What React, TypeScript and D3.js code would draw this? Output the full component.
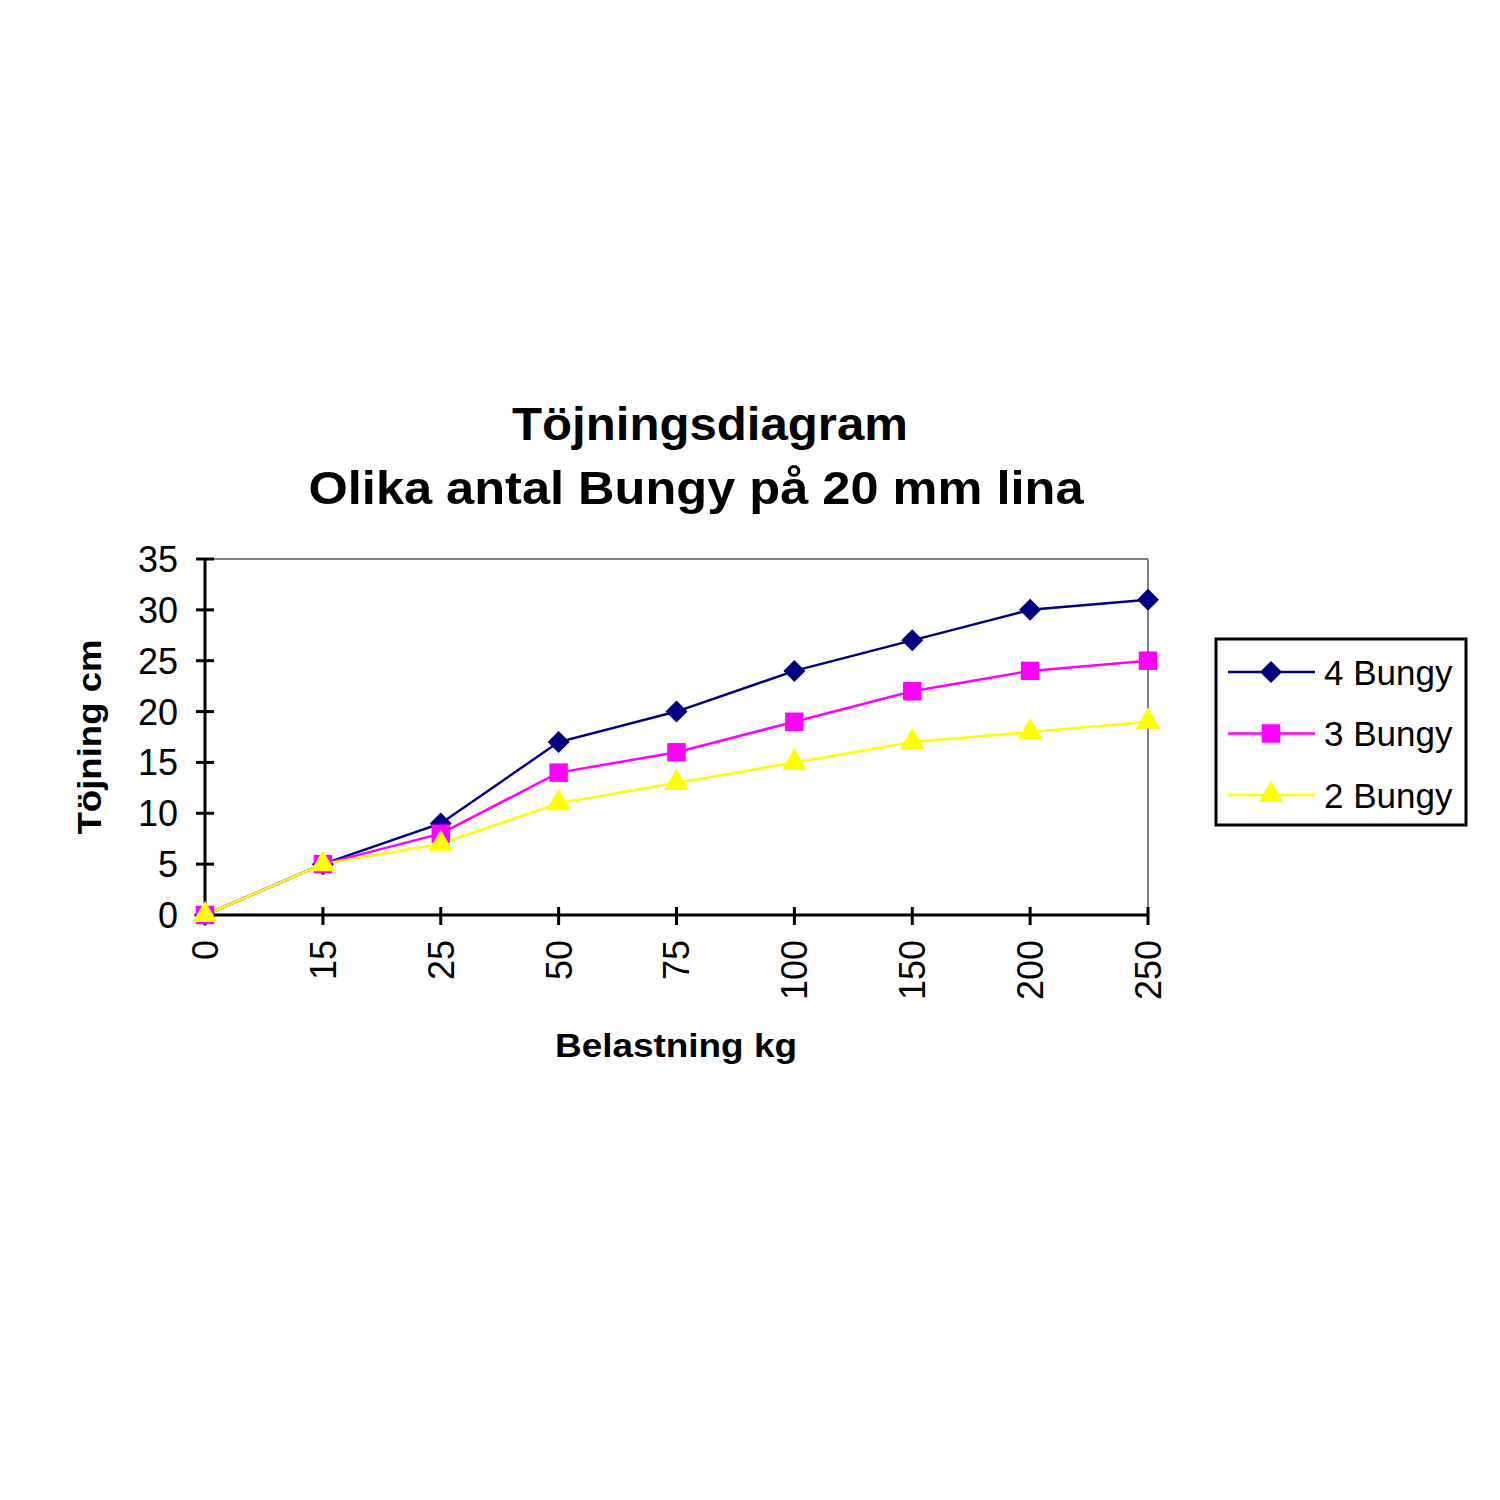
import React from "react";
import * as d3 from "d3";

const categories = ["0", "15", "25", "50", "75", "100", "150", "200", "250"];
const seriesNames = ["4 Bungy", "3 Bungy", "2 Bungy"];
const bungy4 = [0, 5, 9, 17, 20, 24, 27, 30, 31];
const bungy3 = [0, 5, 8, 14, 16, 19, 22, 24, 25];
const bungy2 = [0, 5, 7, 11, 13, 15, 17, 18, 19];
const yTicks = [0, 5, 10, 15, 20, 25, 30, 35];
const titleLines = ["Töjningsdiagram", "Olika antal Bungy på 20 mm lina"];
const xTitle = "Belastning kg";
const yTitle = "Töjning cm";

const colors = ["#000080", "#FF00FF", "#FFFF00"];

const squareDiamond: d3.SymbolType = {
  draw(ctx, size) {
    const r = Math.sqrt(size / 2);
    ctx.moveTo(0, -r);
    ctx.lineTo(r, 0);
    ctx.lineTo(0, r);
    ctx.lineTo(-r, 0);
    ctx.closePath();
  },
};
const shapes = [squareDiamond, d3.symbolSquare, d3.symbolTriangle];
const symbolSizes = [242, 340, 260];

export default function App() {
  const left = 205, right = 1148, top = 559, bottom = 915;
  const x = d3.scalePoint<string>().domain(categories).range([left, right]).padding(0);
  const y = d3.scaleLinear().domain([0, 35]).range([bottom, top]);
  const data = [bungy4, bungy3, bungy2];
  const line = d3.line<number>().x((_, i) => x(categories[i])!).y((d) => y(d));
  const font = "'Liberation Sans', Arial, sans-serif";

  return (
    <svg width={1500} height={1500} style={{ display: "block", position: "absolute", left: 0, top: 0, background: "#fff" }}>
      <rect x={0} y={0} width={1500} height={1500} fill="#fff" />
      {/* title */}
      <text x={710} y={440} textAnchor="middle" fontFamily={font} fontSize={46} fontWeight="bold" textLength={396} lengthAdjust="spacingAndGlyphs">{titleLines[0]}</text>
      <text x={696} y={504} textAnchor="middle" fontFamily={font} fontSize={46} fontWeight="bold" textLength={775} lengthAdjust="spacingAndGlyphs">{titleLines[1]}</text>

      {/* plot area border (gray top/right) */}
      <line x1={left} y1={top} x2={right} y2={top} stroke="#808080" strokeWidth={2} />
      <line x1={right} y1={top} x2={right} y2={bottom} stroke="#808080" strokeWidth={2} />

      {/* y axis */}
      <line x1={left} y1={top} x2={left} y2={bottom} stroke="#000" strokeWidth={3} />
      {yTicks.map((t) => (
        <g key={t}>
          <line x1={left - 9} x2={left + 9} y1={y(t)} y2={y(t)} stroke="#000" strokeWidth={3} />
          <text x={178} y={y(t)} dy="0.36em" textAnchor="end" fontFamily={font} fontSize={36}>{t}</text>
        </g>
      ))}
      {/* x axis */}
      <line x1={left} y1={bottom} x2={right} y2={bottom} stroke="#000" strokeWidth={3} />
      {categories.map((c) => (
        <g key={c}>
          <line x1={x(c)!} x2={x(c)!} y1={bottom - 8} y2={bottom + 10} stroke="#000" strokeWidth={3} />
          <text transform={`translate(${x(c)!},940) rotate(-90)`} dy="0.36em" textAnchor="end" fontFamily={font} fontSize={36}>{c}</text>
        </g>
      ))}

      {/* axis titles */}
      <text x={676} y={1057} textAnchor="middle" fontFamily={font} fontSize={34} fontWeight="bold" textLength={242} lengthAdjust="spacingAndGlyphs">{xTitle}</text>
      <text transform={`translate(101,737) rotate(-90)`} textAnchor="middle" fontFamily={font} fontSize={34} fontWeight="bold" textLength={195} lengthAdjust="spacingAndGlyphs">{yTitle}</text>

      {/* series */}
      {data.map((vals, si) => (
        <g key={si}>
          <path d={line(vals)!} fill="none" stroke={colors[si]} strokeWidth={2.5} />
        </g>
      ))}
      {data.map((vals, si) => (
        <g key={"m" + si}>
          {vals.map((v, i) => (
            <path key={i} transform={`translate(${x(categories[i])!},${y(v)})`} d={d3.symbol().type(shapes[si]).size(symbolSizes[si])()!} fill={colors[si]} />
          ))}
        </g>
      ))}

      {/* legend */}
      <rect x={1216} y={639} width={250} height={186} fill="#fff" stroke="#000" strokeWidth={3} />
      {seriesNames.map((n, i) => {
        const ly = 672 + i * 61.5;
        return (
          <g key={n}>
            <line x1={1228} x2={1315} y1={ly} y2={ly} stroke={colors[i]} strokeWidth={2.5} />
            <path transform={`translate(1271,${ly})`} d={d3.symbol().type(shapes[i]).size(symbolSizes[i])()!} fill={colors[i]} />
            <text x={1324} y={ly} dy="0.36em" fontFamily={font} fontSize={35}>{n}</text>
          </g>
        );
      })}
    </svg>
  );
}
